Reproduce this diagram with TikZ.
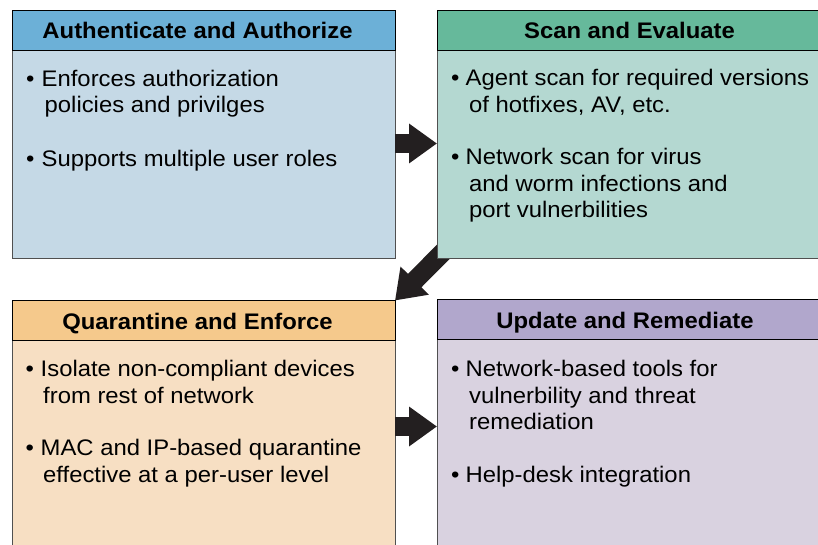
\documentclass[tikz,border=0pt]{standalone}
\usepackage{fontspec}
\setmainfont{Liberation Sans}
\newfontfamily\panelfont[FakeStretch=1.06]{Liberation Sans}
\usetikzlibrary{arrows.meta,calc}
\pgfdeclarelayer{bg}
\pgfsetlayers{bg,main}
\definecolor{edgec}{RGB}{80,80,80}
\definecolor{arrowc}{RGB}{35,31,32}
\definecolor{hA}{RGB}{108,176,215}
\definecolor{bA}{RGB}{197,217,230}
\definecolor{hB}{RGB}{102,185,155}
\definecolor{bB}{RGB}{180,216,209}
\definecolor{hC}{RGB}{245,201,140}
\definecolor{bC}{RGB}{247,223,195}
\definecolor{hD}{RGB}{177,167,204}
\definecolor{bD}{RGB}{217,210,224}
\begin{document}
\begin{tikzpicture}[x=1pt,y=-1pt,
  panel/.style={draw=edgec, line width=0.9pt, rectangle, inner sep=0pt, outer sep=0pt,
    anchor=north west, minimum width=382.5pt},
  headbar/.style={draw=black, line width=0.9pt, rectangle, inner sep=0pt, outer sep=0pt,
    anchor=north west, minimum width=382.5pt, minimum height=40pt},
  headtext/.style={font=\panelfont\fontsize{22.5}{27}\selectfont\bfseries, inner sep=0pt, anchor=base},
  ln/.style={font=\panelfont\fontsize{22.5}{27}\selectfont, inner sep=0pt, anchor=base west},
  fatarrow/.style={draw=arrowc, line width=19pt, -{Triangle[length=28pt,width=38pt]}}
]
\clip (0,0) rectangle (818,545);
% panels
\node[panel, fill=bA, minimum height=247.5pt] (TL) at (12.5,10.5) {};
\node[headbar, fill=hA] (TLh) at (12.5,10.5) {};
\node[panel, fill=bB, minimum height=247.5pt] (TR) at (437,10.5) {};
\node[headbar, fill=hB] (TRh) at (437,10.5) {};
\node[panel, fill=bC, minimum height=260pt] (BL) at (12.5,300.5) {};
\node[headbar, fill=hC] (BLh) at (12.5,300.5) {};
\node[panel, fill=bD, minimum height=260pt] (BR) at (437,299.5) {};
\node[headbar, fill=hD] (BRh) at (437,299.5) {};
% headers
\node[headtext] (TLt) at (197.5,39) {Authenticate and Authorize};
\node[headtext] (TRt) at (629.5,39) {Scan and Evaluate};
\node[headtext] (BLt) at (197.5,329) {Quarantine and Enforce};
\node[headtext] (BRt) at (625,328.3) {Update and Remediate};
% top-left body
\node[ln] (tl1b) at (26,86.7) {\textbullet};
\node[ln] (tl1) at (41.5,86.7) {Enforces authorization};
\node[ln] (tl2) at (44.5,112.5) {policies and privilges};
\node[ln] (tl3b) at (26,166.5) {\textbullet};
\node[ln] (tl3) at (41.5,166.5) {Supports multiple user roles};
% top-right body
\node[ln] (tr1b) at (451,86) {\textbullet};
\node[ln] (tr1) at (465.5,86) {Agent scan for required versions};
\node[ln] (tr2) at (469,113) {of hotfixes, AV, etc.};
\node[ln] (tr3b) at (451,165) {\textbullet};
\node[ln] (tr3) at (465.5,165) {Network scan for virus};
\node[ln] (tr4) at (469,192) {and worm infections and};
\node[ln] (tr5) at (469,218) {port vulnerbilities};
% bottom-left body
\node[ln] (bl1b) at (25.5,376) {\textbullet};
\node[ln] (bl1) at (40.5,376) {Isolate non-compliant devices};
\node[ln] (bl2) at (43,403) {from rest of network};
\node[ln] (bl3b) at (25.5,455) {\textbullet};
\node[ln] (bl3) at (40.5,455) {MAC and IP-based quarantine};
\node[ln] (bl4) at (43,482) {effective at a per-user level};
% bottom-right body
\node[ln] (br1b) at (451,376) {\textbullet};
\node[ln] (br1) at (465.5,376) {Network-based tools for};
\node[ln] (br2) at (469,403) {vulnerbility and threat};
\node[ln] (br3) at (469,429) {remediation};
\node[ln] (br4b) at (451,482) {\textbullet};
\node[ln] (br4) at (465.5,482) {Help-desk integration};
% arrows
\coordinate (a1) at (0,143.5);
\coordinate (a3) at (0,426.5);
\draw[fatarrow] (TL.east |- a1) -- (TR.west |- a1);
\draw[fatarrow] (BL.east |- a3) -- (BR.west |- a3);
\begin{pgfonlayer}{bg}
\draw[fatarrow] ($(TR.south west)+(12,-12)$) -- (BL.north east);
\end{pgfonlayer}
\end{tikzpicture}
\end{document}
